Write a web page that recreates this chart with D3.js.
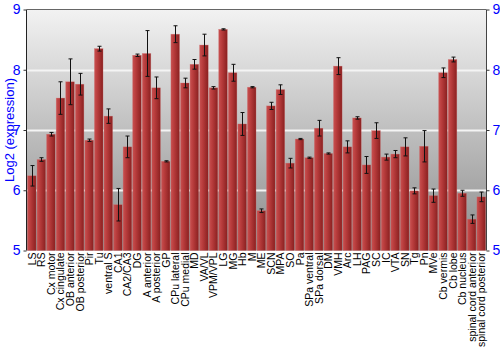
<!DOCTYPE html>
<html><head><meta charset="utf-8">
<script src="https://cdn.jsdelivr.net/npm/d3@7"></script>
<style>body{margin:0;background:#fff}svg{display:block;font-family:"Liberation Sans",Arial,sans-serif}</style>
</head><body><svg id="c" width="500" height="350"></svg>
<script>
const categories = ["LS","RS","Cx motor","Cx cingulate","OB anterior","OB posterior","Pir","Tu","ventral S","CA1","CA2/CA3","DG","A anterior","A posterior","GP","CPu lateral","CPu medial","MD","VA/VL","VPM/VPL","LG","MG","Hb","M","ME","SCN","MPA","SO","Pa","SPa ventral","SPa dorsal","DM","VMH","Arc","LH","PAG","SC","IC","VTA","SN","Tg","Pn","MVe","Cb vermis","Cb lobe","Cb nucleus","spinal cord anterior","spinal cord posterior"];
const values = [6.24,6.51,6.93,7.53,7.80,7.76,6.83,8.35,7.23,5.76,6.72,8.24,8.27,7.70,6.48,8.59,7.78,8.09,8.41,7.70,8.67,7.95,7.10,7.71,5.66,7.40,7.67,6.45,6.85,6.54,7.03,6.61,8.06,6.72,7.20,6.42,6.99,6.55,6.60,6.72,5.99,6.73,5.91,7.95,8.17,5.95,5.52,5.89];
const errors = [0.17,0.03,0.03,0.27,0.38,0.18,0.02,0.04,0.12,0.27,0.18,0.02,0.38,0.18,0.01,0.14,0.08,0.08,0.18,0.02,0.01,0.14,0.19,0.01,0.03,0.06,0.08,0.08,0.01,0.01,0.13,0.01,0.14,0.10,0.02,0.14,0.13,0.05,0.06,0.15,0.05,0.26,0.11,0.08,0.04,0.05,0.07,0.08];
const yTicks = [5,6,7,8,9];

const svg = d3.select("#c");
const L = 27, R = 486, T = 9.5, B = 250.5;
const x = d3.scaleBand().domain(categories).range([L, R]).paddingInner(0.1).paddingOuter(0.05);
const y = d3.scaleLinear().domain([5, 9]).range([B, T]);

const defs = svg.append("defs");
const bg = defs.append("linearGradient").attr("id","bg").attr("x1",0).attr("y1",0).attr("x2",0).attr("y2",1);
bg.append("stop").attr("offset","0%").attr("stop-color","#f2f2f2");
bg.append("stop").attr("offset","100%").attr("stop-color","#8c8c8c");
const bar = defs.append("linearGradient").attr("id","bar").attr("x1",0).attr("y1",0).attr("x2",1).attr("y2",0);
bar.append("stop").attr("offset","0%").attr("stop-color","#c85050");
bar.append("stop").attr("offset","35%").attr("stop-color","#b83c3c");
bar.append("stop").attr("offset","100%").attr("stop-color","#8a2020");

svg.append("rect").attr("x",L).attr("y",T).attr("width",R-L).attr("height",B-T).attr("fill","url(#bg)");

// gridlines
svg.append("g").selectAll("line").data(yTicks.filter(d=>d>5&&d<9)).join("line")
  .attr("x1",L).attr("x2",R).attr("y1",d=>Math.round(y(d))+0.5).attr("y2",d=>Math.round(y(d))+0.5)
  .attr("stroke","#f4f4f4").attr("stroke-width",2);

// bars
svg.append("g").selectAll("rect").data(categories).join("rect")
  .attr("x",d=>x(d)).attr("width",x.bandwidth())
  .attr("y",(d,i)=>y(values[i])).attr("height",(d,i)=>B-y(values[i]))
  .attr("fill","url(#bar)").attr("stroke","#d07070").attr("stroke-width",0.5).attr("stroke-opacity",0.6);

// error bars
const eg = svg.append("g").attr("stroke","#111").attr("stroke-width",1);
categories.forEach((c,i)=>{
  const cx = Math.round(x(c)+x.bandwidth()/2)+0.5;
  const y1 = y(values[i]+errors[i]), y2 = y(values[i]-errors[i]);
  eg.append("line").attr("x1",cx).attr("x2",cx).attr("y1",y1).attr("y2",y2);
  eg.append("line").attr("x1",cx-2).attr("x2",cx+2).attr("y1",y1).attr("y2",y1);
  eg.append("line").attr("x1",cx-2).attr("x2",cx+2).attr("y1",y2).attr("y2",y2);
});

// frame
svg.append("line").attr("x1",L).attr("x2",R).attr("y1",T).attr("y2",T).attr("stroke","#666");
svg.append("line").attr("x1",L-0.5).attr("x2",L-0.5).attr("y1",T).attr("y2",B).attr("stroke","#222");
svg.append("line").attr("x1",R+0.5).attr("x2",R+0.5).attr("y1",T).attr("y2",B).attr("stroke","#444");

// axes
const yl = svg.append("g").attr("transform",`translate(${L-0.5},0)`).call(d3.axisLeft(y).tickValues(yTicks).tickSize(3).tickFormat(d3.format("d")));
const yr = svg.append("g").attr("transform",`translate(${R+0.5},0)`).call(d3.axisRight(y).tickValues(yTicks).tickSize(3).tickFormat(d3.format("d")));
[yl,yr].forEach(g=>{
  g.select(".domain").remove();
  g.selectAll("line").attr("stroke","#333");
  g.selectAll("text").attr("fill","#0000ff").style("font-size","14px").attr("font-family","Liberation Sans, Arial, sans-serif");
});

// x labels
svg.append("g").selectAll("text").data(categories).join("text")
  .attr("transform",d=>`translate(${x(d)+x.bandwidth()/2+4},${B+2}) rotate(-90)`)
  .attr("text-anchor","end").style("font-size","10.5px").attr("fill","#000").text(d=>d);

svg.append("text").attr("transform",`translate(14,${(T+B)/2}) rotate(-90)`).attr("text-anchor","middle")
  .attr("fill","#0000ff").style("font-size","13px").text("Log2 (expression)");
</script></body></html>
